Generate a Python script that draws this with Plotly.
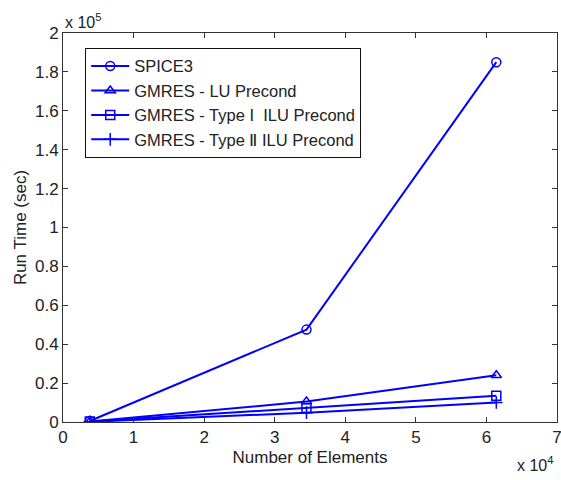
import plotly.graph_objects as go

# Data (x: number of elements, y: run time in seconds)
elements = [3800, 34500, 61400]
spice3 = [500, 47500, 185000]
gmres_lu = [300, 10500, 24000]
gmres_ilu1 = [200, 7200, 13500]
gmres_ilu2 = [100, 4800, 10000]

series_names = ["SPICE3", "GMRES - LU Precond", "GMRES - Type I  ILU Precond", "GMRES - Type \u2161 ILU Precond"]
series_values = [spice3, gmres_lu, gmres_ilu1, gmres_ilu2]
symbols = ["circle-open", "triangle-up-open", "square-open", "cross-thin-open"]

x_ticks = [0, 1, 2, 3, 4, 5, 6, 7]
y_ticks = [0, 0.2, 0.4, 0.6, 0.8, 1, 1.2, 1.4, 1.6, 1.8, 2]

FONT = "Liberation Sans, Arial, sans-serif"
TXT = "#222222"
blue = "#0000FF"
fig = go.Figure()
for name, vals, sym in zip(series_names, series_values, symbols):
    fig.add_trace(go.Scatter(
        x=[v / 1e4 for v in elements], y=[v / 1e5 for v in vals],
        mode="lines+markers", name=name,
        line=dict(color=blue, width=2),
        marker=dict(symbol=sym, size=9, color=blue, line=dict(color=blue, width=1.5)),
    ))

axis_common = dict(
    showline=True, linecolor="#333333", linewidth=1, mirror="ticks",
    ticks="inside", ticklen=5, tickcolor="#333333", showgrid=False, zeroline=False,
    tickfont=dict(family=FONT, size=17, color=TXT), ticklabeloverflow="allow",
    automargin=False,
)
fig.update_xaxes(range=[0, 7], tickvals=x_ticks, ticktext=[str(t) for t in x_ticks],
                 title=dict(text="Number of Elements", font=dict(family=FONT, size=17, color=TXT), standoff=4),
                 **axis_common)
fig.update_yaxes(range=[0, 2], tickvals=y_ticks, ticktext=[f"{t:g}" for t in y_ticks],
                 title=dict(text="Run Time (sec)", font=dict(family=FONT, size=17, color=TXT), standoff=4),
                 **axis_common)

fig.add_annotation(xref="paper", yref="paper", x=0.0, y=1.0, xanchor="left", yanchor="bottom",
                   text="x 10<sup>5</sup>", showarrow=False, yshift=0,
                   font=dict(family=FONT, size=16, color=TXT))
fig.add_annotation(xref="paper", yref="paper", x=1.0, y=0.0, xanchor="right", yanchor="top",
                   text="x 10<sup>4</sup>", showarrow=False, yshift=-30, xshift=-2,
                   font=dict(family=FONT, size=16, color=TXT))

fig.update_layout(
    width=561, height=480,
    margin=dict(l=63, r=4, t=33, b=58),
    paper_bgcolor="white", plot_bgcolor="white",
    font=dict(family=FONT, size=17, color=TXT),
    showlegend=True,
    legend=dict(x=0.045, y=0.962, xanchor="left", yanchor="top",
                bgcolor="white", bordercolor="#111111", borderwidth=1,
                font=dict(family=FONT, size=16.5, color=TXT), tracegroupgap=0, itemwidth=38),
)
fig.write_html("out.html")
